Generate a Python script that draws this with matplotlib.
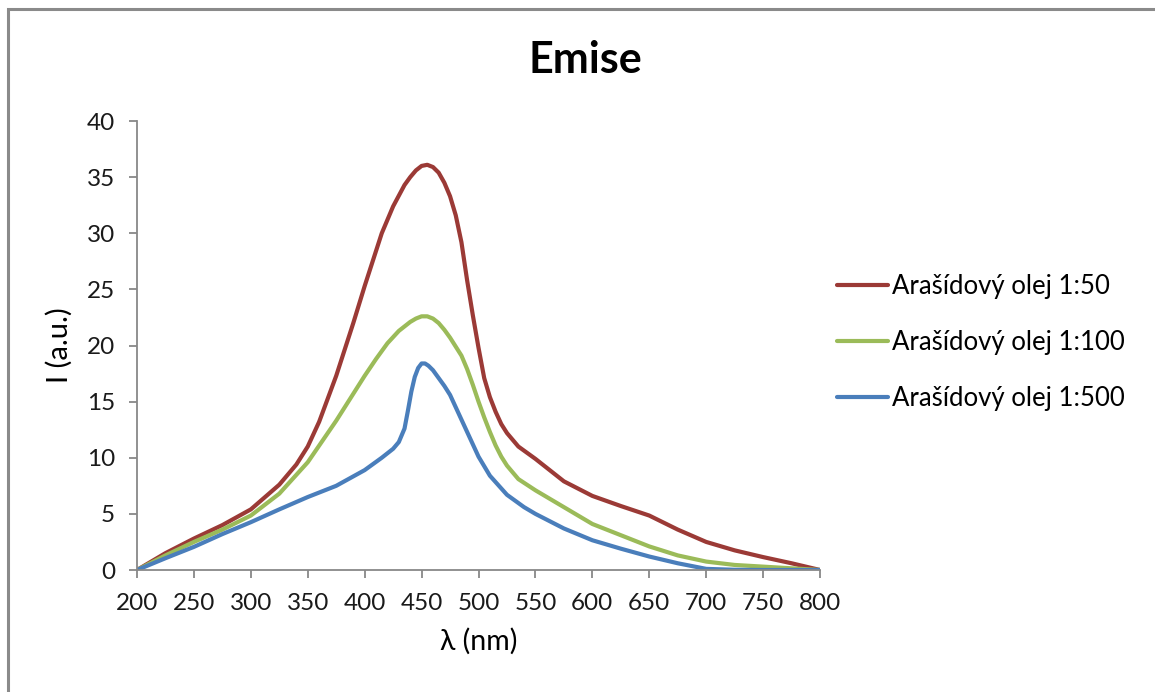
import matplotlib
matplotlib.use("Agg")
import matplotlib.pyplot as plt
from matplotlib.patches import Rectangle

# values (wavelength in nm, intensity in a.u.)
x_1_50 = [200, 225, 250, 275, 300, 325, 340, 350, 360, 375, 390, 400, 415, 425, 435, 440,
          445, 450, 455, 460, 465, 470, 475, 480, 485, 490, 495, 500, 505, 510, 515, 520,
          525, 535, 550, 575, 600, 625, 650, 675, 700, 725, 750, 775, 800]
y_1_50 = [0, 1.5, 2.8, 4.0, 5.4, 7.6, 9.4, 11.0, 13.2, 17.3, 22.0, 25.3, 30.0, 32.4, 34.3, 35.0,
          35.6, 36.0, 36.1, 35.9, 35.4, 34.5, 33.3, 31.6, 29.2, 25.8, 22.7, 19.8, 17.1, 15.4, 14.1, 13.0,
          12.2, 11.0, 9.9, 7.9, 6.6, 5.7, 4.85, 3.6, 2.5, 1.75, 1.15, 0.6, 0]

x_1_100 = [200, 225, 250, 275, 300, 325, 350, 375, 400, 410, 420, 430, 440, 445, 450, 455,
           460, 465, 470, 475, 480, 485, 490, 495, 500, 505, 510, 515, 520, 525, 535, 550,
           575, 600, 625, 650, 675, 700, 725, 750, 775, 800]
y_1_100 = [0, 1.3, 2.5, 3.6, 4.85, 6.8, 9.6, 13.3, 17.3, 18.8, 20.2, 21.3, 22.1, 22.4, 22.6, 22.6,
           22.4, 22.0, 21.4, 20.7, 19.9, 19.1, 17.9, 16.5, 15.0, 13.6, 12.3, 11.1, 10.1, 9.3, 8.1, 7.1,
           5.6, 4.1, 3.1, 2.1, 1.3, 0.75, 0.45, 0.3, 0.15, 0]

x_1_500 = [200, 225, 250, 275, 300, 325, 350, 375, 400, 415, 425, 430, 435, 438, 441, 444,
           447, 450, 453, 456, 460, 465, 470, 475, 480, 485, 490, 495, 500, 510, 525, 540,
           550, 575, 600, 625, 650, 675, 700, 725, 750, 775, 800]
y_1_500 = [0, 1.05, 2.06, 3.2, 4.26, 5.4, 6.5, 7.5, 8.9, 10.0, 10.8, 11.4, 12.6, 14.2, 15.9, 17.2,
           18.0, 18.4, 18.4, 18.2, 17.8, 17.1, 16.4, 15.6, 14.5, 13.4, 12.3, 11.2, 10.1, 8.4, 6.7, 5.6,
           5.0, 3.7, 2.65, 1.9, 1.2, 0.6, 0.1, 0.02, 0, 0, 0]

labels = ["Arašídový olej 1:50", "Arašídový olej 1:100", "Arašídový olej 1:500"]
colors = ["#9B3A36", "#9BBB59", "#4A7EBB"]

x_ticks = list(range(200, 801, 50))
y_ticks = list(range(0, 41, 5))

plt.rcParams['font.family'] = ['Lato', 'DejaVu Sans']

fig = plt.figure(figsize=(11.55, 6.92), dpi=100)
ax = fig.add_axes([0.1186, 0.1763, 0.5914, 0.6488])

series = [(x_1_50, y_1_50), (x_1_100, y_1_100), (x_1_500, y_1_500)]
for (xs, ys), lab, col in zip(series, labels, colors):
    ax.plot(xs, ys, color=col, lw=3.0, label=lab,
            solid_capstyle='round', solid_joinstyle='round')

ax.set_xlim(200, 800)
ax.set_ylim(0, 40)
ax.set_xticks(x_ticks)
ax.set_yticks(y_ticks)

axis_gray = "#888888"
for side in ["top", "right"]:
    ax.spines[side].set_visible(False)
for side in ["left", "bottom"]:
    ax.spines[side].set_color(axis_gray)
    ax.spines[side].set_linewidth(1.3)
ax.tick_params(axis='both', direction='out', length=5.8, width=1.3, color=axis_gray,
               labelsize=17.5, labelcolor="#1a1a1a")
ax.tick_params(axis='x', pad=11)
ax.tick_params(axis='y', pad=10)

fig.suptitle("Emise", x=0.507, y=1 - 60 / 692, va='center', fontsize=31, fontweight='bold')
ax.set_xlabel("λ (nm)", fontsize=20.5, labelpad=10)
ax.set_ylabel("I (a.u.)", fontsize=21, labelpad=10)

ax.legend(loc='upper left', bbox_to_anchor=(0.991, 0.71), frameon=False,
          fontsize=18.5, handlelength=2.0, handletextpad=0.15, labelspacing=1.2)

# outer chart border (cut off on the right and bottom)
border = Rectangle((8 / 1155, -0.1), 1.2, 1 - 9 / 692 + 0.1, transform=fig.transFigure,
                   fill=False, edgecolor="#8a8a8a", lw=2.2)
fig.patches.append(border)

fig.savefig("out.png", dpi=100)
